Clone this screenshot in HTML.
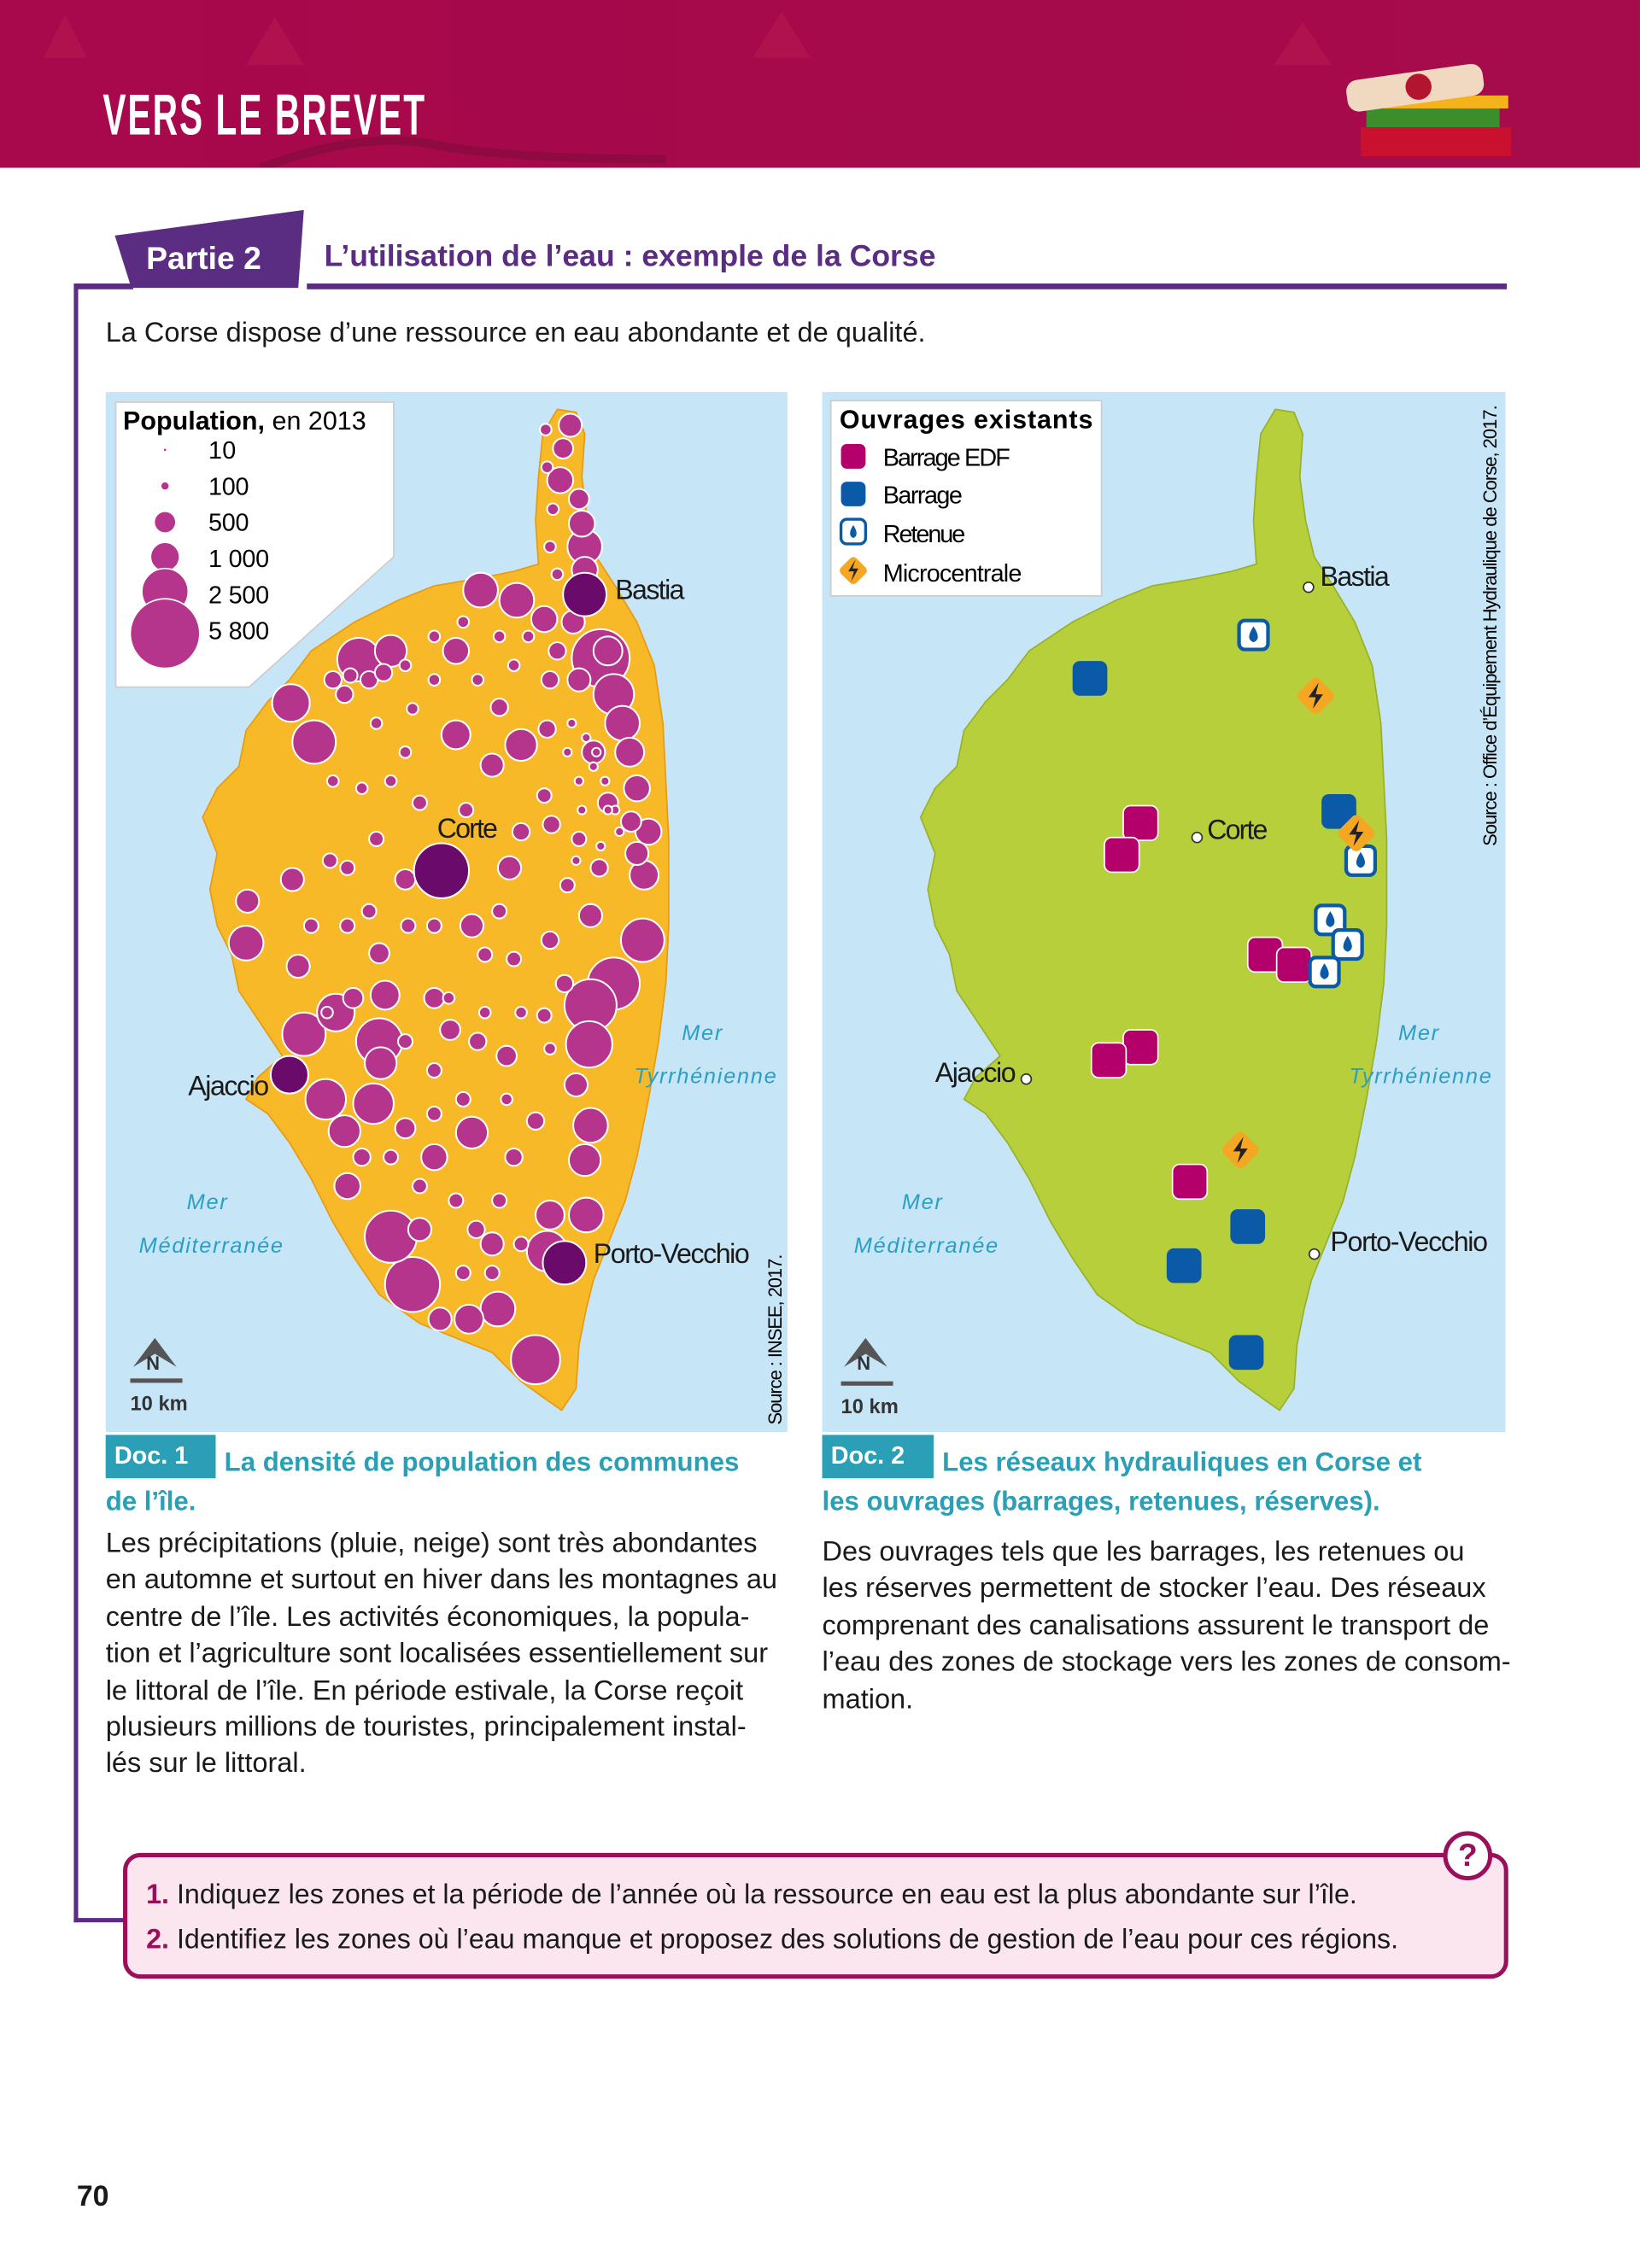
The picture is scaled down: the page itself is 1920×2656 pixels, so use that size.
<!DOCTYPE html>
<html><head><meta charset="utf-8">
<style>
html,body{margin:0;padding:0;background:#fff;}
body{width:1920px;height:2656px;overflow:hidden;position:relative;}
#wrap{position:absolute;left:0;top:0;width:1133px;height:1568px;transform:scale(1.6946,1.6939);transform-origin:0 0;font-family:"Liberation Sans",sans-serif;color:#1a1a1a;}
.abs{position:absolute;}
.body{font-size:19.2px;line-height:25.4px;}
.teal{color:#2a9fb5;font-weight:bold;font-size:18.4px;}
.doclab{background:#2a9fb5;color:#fff;font-weight:bold;font-size:17px;padding:0 6px;height:30px;line-height:30px;}
</style></head><body>
<div id="wrap">
  <div class="abs" style="left:0;top:0;width:1133px;height:116px;background:linear-gradient(90deg,#a8084c,#a50a4a 60%,#a60b4b);">
    <svg width="1133" height="116" style="position:absolute;left:0;top:0">
      <g fill="#b5154f" opacity="0.7"><polygon points="30,40 45,10 60,40"/><polygon points="170,45 190,12 210,45"/><polygon points="520,40 540,8 560,40"/><polygon points="880,45 900,15 920,45"/></g>
      <path d="M180,116 Q250,90 300,100 T460,110" stroke="#8f0a40" stroke-width="6" fill="none"/>
      <g>
        <rect x="940" y="88" width="104" height="20" fill="#c9102f"/>
        <rect x="944" y="74" width="92" height="14" fill="#3b8e2b"/>
        <rect x="956" y="66" width="86" height="9" fill="#f4b31b"/>
        <rect x="930" y="50" width="95" height="22" rx="8" fill="#f0d9c0" transform="rotate(-8 975 60)"/>
        <circle cx="980" cy="60" r="9" fill="#b31530"/>
      </g>
    </svg>
    <div class="abs" style="left:71px;top:58px;color:#fff;font-weight:bold;font-size:40px;letter-spacing:2px;transform:scaleX(0.6);transform-origin:0 0;white-space:nowrap;">VERS LE BREVET</div>
  </div>

  <svg class="abs" style="left:0;top:0" width="1133" height="1568">
    <polygon points="78,162 211,144 207,200 90,200" fill="#5a2d83" stroke="#fff" stroke-width="2"/>
    <rect x="212" y="196" width="829" height="4" fill="#5a2d83"/>
    <rect x="52" y="196" width="40" height="4" fill="#5a2d83"/>
    <rect x="51" y="196" width="3" height="1133" fill="#5a2d83"/>
    <rect x="51" y="1326" width="36" height="3" fill="#5a2d83"/>
  </svg>
  <div class="abs" style="left:101px;top:166px;color:#fff;font-weight:bold;font-size:22px;">Partie 2</div>
  <div class="abs" style="left:224px;top:166px;color:#5a2d83;font-weight:bold;font-size:21px;">L’utilisation de l’eau : exemple de la Corse</div>
  <div class="abs body" style="left:73px;top:218px;">La Corse dispose d’une ressource en eau abondante et de qualité.</div>

  <svg id="maps" class="abs" style="left:0;top:0" width="1133" height="1000">
    <defs>
      <path id="isl" d="M385,283 L398,285 L404,300 L402,330 L406,360 L412,385 L425,405 L440,430 L452,460 L458,500 L460,540 L462,580 L462,640 L460,680 L455,720 L448,760 L440,800 L432,830 L420,860 L410,885 L405,905 L400,930 L398,960 L388,975 L378,968 L360,955 L340,935 L315,925 L290,915 L262,895 L245,870 L230,845 L215,815 L200,790 L185,770 L170,760 L178,745 L195,730 L185,715 L175,700 L165,685 L160,660 L150,640 L145,615 L150,590 L140,565 L150,545 L165,530 L170,505 L185,485 L200,470 L215,450 L245,430 L275,415 L300,405 L330,400 L355,395 L372,390 L370,360 L372,330 L375,300 Z"/>
    </defs>
    <rect x="73" y="271" width="471" height="719" fill="#c6e6f8"/>
    <use href="#isl" fill="#f7b928" stroke="#e89a10" stroke-width="1"/>
    <g id="circ"></g>
    <rect x="568" y="271" width="472" height="719" fill="#c6e6f8"/>
    <use href="#isl" transform="translate(496,0)" fill="#b7cf3a" stroke="#98b02a" stroke-width="1"/>
    <g id="marks"></g>

    <polygon points="80,278 272,278 272,385 172,475 80,475" fill="#fff" stroke="#ccc"/>
    <text x="85" y="297" font-size="18" font-weight="bold">Population,<tspan font-weight="normal"> en 2013</tspan></text>
    <g font-size="17">
      <circle cx="114" cy="311" r="0.8" fill="#b5348c"/><text x="144" y="317" textLength="19">10</text>
      <circle cx="114" cy="336" r="2.5" fill="#b5348c"/><text x="144" y="342" textLength="28">100</text>
      <circle cx="114" cy="361" r="7" fill="#b5348c"/><text x="144" y="367" textLength="28">500</text>
      <circle cx="114" cy="385" r="10" fill="#b5348c" stroke="#fff"/><text x="144" y="392" textLength="42">1 000</text>
      <circle cx="114" cy="409" r="16" fill="#b5348c" stroke="#fff"/><text x="144" y="417" textLength="42">2 500</text>
      <circle cx="114" cy="438" r="24" fill="#b5348c" stroke="#fff"/><text x="144" y="442" textLength="42">5 800</text>
    </g>
    <g font-size="19" fill="#1a1a1a">
      <text x="425" y="414" textLength="48">Bastia</text><text x="302" y="579" textLength="42">Corte</text><text x="130" y="757" textLength="56">Ajaccio</text><text x="410" y="873" textLength="108">Porto-Vecchio</text>
    </g>
    <g font-size="15" font-style="italic" fill="#2a9fc4" letter-spacing="1">
      <text x="129" y="836">Mer</text><text x="96" y="866">Méditerranée</text><text x="471" y="719">Mer</text><text x="438" y="749">Tyrrhénienne</text>
      <text x="623" y="836">Mer</text><text x="590" y="866">Méditerranée</text><text x="966" y="719">Mer</text><text x="932" y="749">Tyrrhénienne</text>
    </g>
    <text transform="translate(540,985) rotate(-90)" font-size="13" textLength="118">Source : INSEE, 2017.</text>
    <text transform="translate(1034,585) rotate(-90)" font-size="13" textLength="305">Source : Office d’Équipement Hydraulique de Corse, 2017.</text>
    <g><path d="M92,945 L107,925 L122,945 L107,936 Z" fill="#555"/><text x="101" y="947" font-size="13" font-weight="bold" fill="#333">N</text><rect x="90" y="953" width="36" height="3" fill="#555"/><text x="90" y="975" font-size="14" font-weight="bold" fill="#333">10 km</text></g>
    <g><path d="M583,945 L598,925 L613,945 L598,936 Z" fill="#555"/><text x="592" y="947" font-size="13" font-weight="bold" fill="#333">N</text><rect x="581" y="955" width="36" height="3" fill="#555"/><text x="581" y="977" font-size="14" font-weight="bold" fill="#333">10 km</text></g>

    <rect x="574" y="277" width="187" height="135" fill="#fff" stroke="#ccc"/>
    <text x="580" y="296" font-size="18" font-weight="bold" textLength="175">Ouvrages existants</text>
    <g font-size="17">
      <rect x="581" y="307" width="17" height="17" rx="4" fill="#b3006b"/><text x="610" y="322" textLength="88">Barrage EDF</text>
      <rect x="581" y="333" width="17" height="17" rx="4" fill="#0a5aa8"/><text x="610" y="348" textLength="55">Barrage</text>
      <rect x="581" y="359" width="17" height="17" rx="4" fill="#fff" stroke="#0a5aa8" stroke-width="2"/><path d="M589.5,363 Q585,370 589.5,372 Q594,370 589.5,363Z" fill="#0a5aa8"/><text x="610" y="375" textLength="57">Retenue</text>
      <rect x="582" y="387" width="15" height="15" rx="3" fill="#f5a623" transform="rotate(45 589.5 394.5)"/><path d="M591,387 L586,395 L590,395 L588,402 L593,393 L589,393Z" fill="#222"/><text x="610" y="402" textLength="96">Microcentrale</text>
    </g>
    <g font-size="19" fill="#1a1a1a">
      <circle cx="904" cy="406" r="3.5" fill="#fff" stroke="#333"/><text x="912" y="405" textLength="48">Bastia</text>
      <circle cx="827" cy="579" r="3.5" fill="#fff" stroke="#333"/><text x="834" y="580" textLength="42">Corte</text>
      <circle cx="709" cy="746" r="3.5" fill="#fff" stroke="#333"/><text x="646" y="748" textLength="56">Ajaccio</text>
      <circle cx="908" cy="867" r="3.5" fill="#fff" stroke="#333"/><text x="919" y="865" textLength="109">Porto-Vecchio</text>
    </g>
  </svg>

  <div class="abs doclab" style="left:73px;top:992px;width:64px;">Doc. 1</div>
  <div class="abs teal" style="left:155px;top:1000px;">La densité de population des communes</div>
  <div class="abs teal" style="left:73px;top:1027px;">de l’île.</div>
  <div class="abs body" style="left:73px;top:1055px;width:480px;white-space:nowrap;">Les précipitations (pluie, neige) sont très abondantes<br>en automne et surtout en hiver dans les montagnes au<br>centre de l’île. Les activités économiques, la popula-<br>tion et l’agriculture sont localisées essentiellement sur<br>le littoral de l’île. En période estivale, la Corse reçoit<br>plusieurs millions de touristes, principalement instal-<br>lés sur le littoral.</div>

  <div class="abs doclab" style="left:568px;top:992px;width:65px;">Doc. 2</div>
  <div class="abs teal" style="left:651px;top:1000px;">Les réseaux hydrauliques en Corse et</div>
  <div class="abs teal" style="left:568px;top:1027px;">les ouvrages (barrages, retenues, réserves).</div>
  <div class="abs body" style="left:568px;top:1061px;width:480px;white-space:nowrap;">Des ouvrages tels que les barrages, les retenues ou<br>les réserves permettent de stocker l’eau. Des réseaux<br>comprenant des canalisations assurent le transport de<br>l’eau des zones de stockage vers les zones de consom-<br>mation.</div>

  <div class="abs" style="left:85px;top:1281px;width:951px;height:81px;border:3px solid #9b0e5a;border-radius:12px;background:#fbe6ef;"></div>
  <div class="abs" style="left:997px;top:1266px;width:28px;height:28px;border:3px solid #9b0e5a;border-radius:50%;background:#fff;color:#9b0e5a;font-weight:bold;font-size:22px;text-align:center;line-height:28px;">?</div>
  <div class="abs body" style="left:101px;top:1298px;font-size:19px;white-space:nowrap;"><b style="color:#9b0e5a">1.</b> Indiquez les zones et la période de l’année où la ressource en eau est la plus abondante sur l’île.</div>
  <div class="abs body" style="left:101px;top:1329px;font-size:19px;white-space:nowrap;"><b style="color:#9b0e5a">2.</b> Identifiez les zones où l’eau manque et proposez des solutions de gestion de l’eau pour ces régions.</div>
  <div class="abs" style="left:53px;top:1508px;font-weight:bold;font-size:20px;">70</div>
</div>
<script>
// Population circles: x, y, radius (page units)
const popX=[394,377,389,378,387,400,382,402,404,380,404,385,376,396,385,415,424,430,435,440,448,440,445,444,424,408,407,398,408,404,405,380,378,370,344,324,304,285,270,240,238,225,210,232,262,258,263,266,244,206,170,171,202,217,201,248,270,332,357,315,315,345,360,340,352,381,360,280,262,326,335,300,311,330,350,370,355,326,300,280,290,329,340,408,390,376,355,400,420,380,410,420,436,378,376,414,400,392,380,345,322,290,260,228,215,240,240,255,282,300,226,280,300,320,300,270,250,315,290,345,360,320,340,350,360,380,335,310,230,250,270,280,260,285,300,330,355,365,300,280,320,345,238,230,255,265,242,395,405,410,418,425,400,412,420,428,392,402,415,398];
const popY=[294,297,310,323,332,345,352,362,378,378,394,397,428,430,450,455,480,500,520,545,575,590,605,650,680,695,722,750,778,802,840,840,865,940,905,912,912,888,855,820,782,760,715,700,720,763,735,688,690,668,652,623,608,513,486,456,450,408,415,450,508,489,515,529,600,570,575,608,659,640,660,690,712,720,730,775,800,783,800,780,850,850,860,633,680,702,663,470,450,470,520,555,568,504,550,600,580,612,650,630,560,555,580,595,640,600,640,630,640,640,700,720,740,760,770,800,800,830,820,830,860,880,880,760,700,725,700,690,540,545,540,520,500,490,470,470,460,440,440,460,430,440,480,470,470,465,467,500,510,530,540,560,540,520,560,575,520,560,585,595];
const popR=[8,4,7,4,9,7,4,9,12,4,9,4,9,8,6,20,14,12,10,9,9,8,10,15,18,18,16,8,12,11,12,10,14,17,12,10,8,19,18,9,11,14,15,13,16,14,11,10,7,8,12,8,8,15,13,15,11,12,12,9,10,6,11,8,8,6,6,7,7,8,5,7,7,6,7,6,6,11,9,7,8,6,8,8,6,5,5,8,10,6,8,7,7,6,5,6,5,5,6,5,5,5,5,5,5,5,5,5,5,5,4,5,5,5,5,5,6,5,5,5,5,5,5,4,4,4,4,4,4,4,4,4,4,4,4,4,4,4,4,4,4,4,6,6,6,6,5,3,3,3,3,3,3,3,3,3,3,3,3,3];
// Main towns (dark)
const cityX=[404,305,200,390];
const cityY=[411,602,743,873];
const cityR=[15,19,13,15];
// Water works (map 2)
const edfX=[788,775,874,894,788,766,822], edfY=[569,591,660,667,724,733,817];
const barX=[753,925,862,818,861], barY=[469,561,848,875,935];
const retX=[866,940,919,931,915], retY=[439,595,636,653,672];
const micX=[909,937,857], micY=[481,576,795];

const NS='http://www.w3.org/2000/svg';
const cg=document.getElementById('circ');
function mk(tag,attrs,parent){const e=document.createElementNS(NS,tag);for(const k in attrs)e.setAttribute(k,attrs[k]);parent.appendChild(e);return e;}
const order=popR.map((r,i)=>i).sort((a,b)=>popR[b]-popR[a]);
order.forEach(i=>{
  const c=mk('circle',{cx:popX[i],cy:popY[i],r:popR[i],fill:'#b5348c',stroke:'#fff','stroke-width':1.2},cg);
  
  
});
cityX.forEach((x,i)=>{
  const c=mk('circle',{cx:x,cy:cityY[i],r:cityR[i],fill:'#6a0a6a',stroke:'#fff','stroke-width':1.2},cg);
  
  
});
const mg=document.getElementById('marks');
edfX.forEach((x,i)=>{
  const r=mk('rect',{x:x-12,y:edfY[i]-12,width:24,height:24,rx:5,fill:'#b3006b',stroke:'#fff','stroke-width':1},mg);
  
  
});
barX.forEach((x,i)=>{
  const r=mk('rect',{x:x-12,y:barY[i]-12,width:24,height:24,rx:5,fill:'#0a5aa8'},mg);
  
  
});
retX.forEach((x,i)=>{
  const y=retY[i];
  const r=mk('rect',{x:x-10,y:y-10,width:20,height:20,rx:4,fill:'#fff',stroke:'#0a5aa8','stroke-width':2.5},mg);
  
  
  mk('path',{d:`M${x},${y-6} Q${x-6},${y+3} ${x},${y+5} Q${x+6},${y+3} ${x},${y-6}Z`,fill:'#0a5aa8'},mg);
});
micX.forEach((x,i)=>{
  const y=micY[i];
  const r=mk('rect',{x:x-10,y:y-10,width:20,height:20,rx:4,fill:'#f5a623',transform:`rotate(45 ${x} ${y})`},mg);
  
  
  mk('path',{d:`M${x+2},${y-9} L${x-5},${y+1} L${x},${y+1} L${x-2},${y+9} L${x+5},${y-1} L${x},${y-1}Z`,fill:'#222'},mg);
});
</script>
</body></html>
